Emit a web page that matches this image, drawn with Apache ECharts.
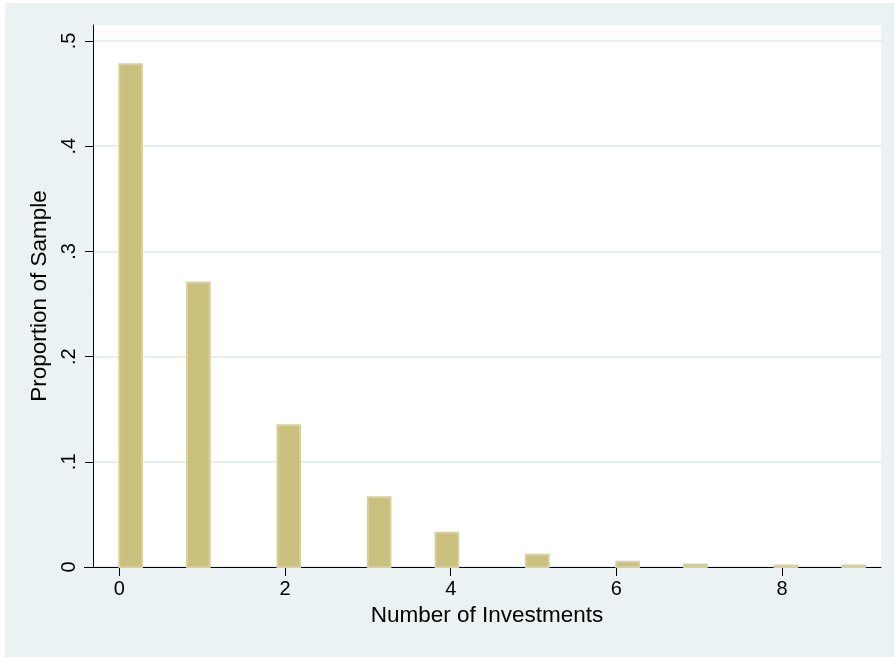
<!DOCTYPE html>
<html>
<head>
<meta charset="utf-8">
<script src="https://cdn.jsdelivr.net/npm/echarts@6/dist/echarts.min.js"></script>
<style>
	html, body { margin: 0; padding: 0; background: #fff; }
	#wrap { position: relative; width: 894px; height: 657px; background: #fff; }
	#chart { position: absolute; left: 5px; top: 3px; width: 889px; height: 654px; }
</style>
</head>
<body>
<div id="wrap"><div id="chart"></div></div>
<script>
// histogram bins (33 bins of equal width over 0..9), only non-empty ones
var binLeft  = [0, 0.818, 1.909, 3, 3.818, 4.909, 6, 6.818, 7.909, 8.727];
var binRight = [0.273, 1.091, 2.182, 3.273, 4.091, 5.182, 6.273, 7.091, 8.182, 9];
var proportion = [0.478, 0.2705, 0.1347, 0.0663, 0.0325, 0.0116, 0.0049, 0.0024, 0.0014, 0.0014];

var xTicks = [0, 2, 4, 6, 8];
var yTicks = [0, 0.1, 0.2, 0.3, 0.4, 0.5];

var font = 'Liberation Sans, Arial, Helvetica, sans-serif';

// 组装数据
var bars = [];
for (var i = 0; i < binLeft.length; i++) {
	bars.push([binLeft[i], binRight[i], proportion[i]]);
}

// stata style labels: .1 .2 ...
function stataNum(v) {
	if (v === 0) return '0';
	return String(v).replace(/^0\./, '.');
}

var myChart = echarts.init(document.getElementById('chart'));
var option = {
	backgroundColor: '#EAF2F3',
	animation: false,
	grid: {
		show: true,
		left: 88,
		right: 13,
		top: 22,
		bottom: 90,
		backgroundColor: '#fff',
		borderWidth: 0
	},
	xAxis: {
		type: 'value',
		min: -0.3175,
		max: 9.194,
		name: 'Number of Investments',
		nameLocation: 'middle',
		nameGap: 36,
		nameTextStyle: { color: '#000', fontSize: 22.5, fontFamily: font },
		axisLine: { show: true, onZero: false, lineStyle: { color: '#000', width: 1 } },
		axisTick: { show: true, customValues: xTicks, length: 9, lineStyle: { color: '#000' } },
		axisLabel: { customValues: xTicks, color: '#000', fontSize: 20, fontFamily: font, margin: 12 },
		splitLine: { show: false }
	},
	yAxis: {
		type: 'value',
		min: 0,
		max: 0.5152,
		interval: 0.1,
		name: 'Proportion of Sample',
		nameLocation: 'middle',
		nameGap: 40,
		nameTextStyle: { color: '#000', fontSize: 22.5, fontFamily: font },
		axisLine: { show: true, onZero: false, lineStyle: { color: '#000', width: 1 } },
		axisTick: { show: true, customValues: yTicks, length: 8, lineStyle: { color: '#000' } },
		axisLabel: {
			customValues: yTicks,
			rotate: 90,
			color: '#000',
			fontSize: 20,
			fontFamily: font,
			margin: 14,
			formatter: stataNum
		},
		splitLine: { show: true, lineStyle: { color: '#E6EEF0', width: 2 } }
	},
	// x轴线向左多出一截
	graphic: [{
		type: 'line',
		shape: { x1: 79, y1: 564.5, x2: 88, y2: 564.5 },
		style: { stroke: '#000', lineWidth: 1 }
	}],
	series: [{
		type: 'custom',
		data: bars,
		renderItem: function(params, api) {
			var p0 = api.coord([api.value(0), api.value(2)]);
			var p1 = api.coord([api.value(1), 0]);
			return {
				type: 'rect',
				shape: { x: p0[0], y: p0[1], width: p1[0] - p0[0], height: p1[1] - p0[1] },
				style: { fill: '#C9C07E', stroke: '#D7D09C', lineWidth: 2 }
			};
		},
		encode: { x: [0, 1], y: 2 }
	}]
};
myChart.setOption(option);
</script>
</body>
</html>
